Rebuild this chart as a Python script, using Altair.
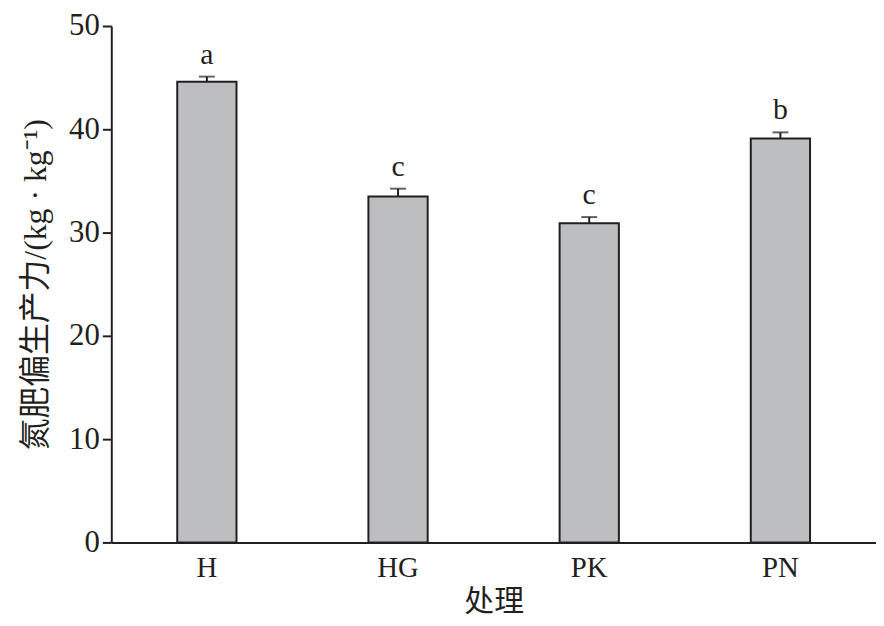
import altair as alt
import pandas as pd

treatments = ["H", "HG", "PK", "PN"]
values = [44.6, 33.5, 30.9, 39.1]
errors = [0.5, 0.75, 0.6, 0.6]
letters = ["a", "c", "c", "b"]

df = pd.DataFrame({
    "t": treatments,
    "v": values,
    "up": [v + e for v, e in zip(values, errors)],
    "lab": letters,
})

FONT = "'Liberation Serif', 'Times New Roman', 'Noto Sans CJK SC', serif"
INK = "#231f20"

x = alt.X("t:N", sort=treatments,
          scale=alt.Scale(paddingInner=0.69, paddingOuter=0.345),
          axis=alt.Axis(title="处理", labelAngle=0, ticks=False, labelPadding=11,
                        labelFontSize=29, titleFontSize=30, titlePadding=5,
                        labelFont=FONT, titleFont=FONT, labelColor=INK, titleColor=INK,
                        domainColor=INK, domainWidth=2, titleFontWeight="normal"))
y = alt.Y("v:Q", scale=alt.Scale(domain=[0, 50], nice=False),
          axis=alt.Axis(title="氮肥偏生产力/(kg · kg⁻¹)", values=[0, 10, 20, 30, 40, 50],
                        grid=False, tickSize=9, tickWidth=2, tickColor=INK,
                        domainColor=INK, domainWidth=2, labelPadding=3,
                        labelFontSize=31, titleFontSize=32, titlePadding=16,
                        labelFont=FONT, titleFont=FONT, labelColor=INK, titleColor=INK,
                        titleFontWeight="normal"))

base = alt.Chart(df)
bars = base.mark_bar(color="#bdbec0", stroke=INK, strokeWidth=2).encode(x=x, y=y)
rule = base.mark_rule(color=INK, strokeWidth=2).encode(x=alt.X("t:N", sort=treatments), y="v:Q", y2="up:Q")
cap = base.mark_tick(color=INK, thickness=2, size=16).encode(x=alt.X("t:N", sort=treatments), y="up:Q")
txt = base.mark_text(font=FONT, fontSize=30, color=INK, dy=-22).encode(
    x=alt.X("t:N", sort=treatments), y="up:Q", text="lab:N")

chart = alt.layer(bars, rule, cap, txt).properties(
    width=770, height=520,
    autosize=alt.AutoSizeParams(type="none"),
    padding={"left": 104, "top": 16, "right": 0, "bottom": 80},
).configure_view(stroke=None)

chart.save("out.html", embed_options={"renderer": "svg", "actions": False})
